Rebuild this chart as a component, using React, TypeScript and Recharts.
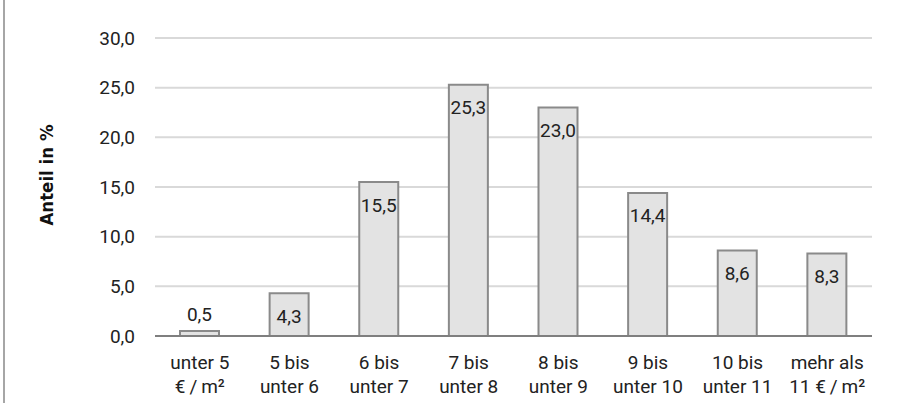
import React from "react";
import { BarChart, Bar, XAxis, YAxis, CartesianGrid, LabelList } from "recharts";

const categories = [
  ["unter 5", "€\u2009/\u2009m²"],
  ["5 bis", "unter 6"],
  ["6 bis", "unter 7"],
  ["7 bis", "unter 8"],
  ["8 bis", "unter 9"],
  ["9 bis", "unter 10"],
  ["10 bis", "unter 11"],
  ["mehr als", "11 €\u2009/\u2009m²"],
];
const shares = [0.5, 4.3, 15.5, 25.3, 23.0, 14.4, 8.6, 8.3];
const yTicks = [0, 5, 10, 15, 20, 25, 30];

const FONT = "Roboto, sans-serif";
const SIZE = 19;

const data = categories.map((c, i) => ({ name: c.join("|"), value: shares[i] }));

const fmt = (v: number) => v.toFixed(1).replace(".", ",");

function CategoryTick({ x, y, payload }: any) {
  const [a, b] = String(payload.value).split("|");
  return (
    <text x={x} y={y} textAnchor="middle" fontFamily={FONT} fontSize={SIZE} fill="#222">
      <tspan x={x} dy={25}>{a}</tspan>
      <tspan x={x} dy={24}>{b}</tspan>
    </text>
  );
}

function ValueLabel({ x, y, width, value }: any) {
  const cx = x + width / 2;
  // tiny bars get their label above the bar, the rest sit just inside the top
  const ty = value < 1 ? y - 17 : y + 23;
  return (
    <text x={cx} y={ty} textAnchor="middle" dominantBaseline="central" fontFamily={FONT} fontSize={SIZE} fill="#222">
      {fmt(value)}
    </text>
  );
}

export default function App() {
  return (
    <div style={{ position: "fixed", left: 0, top: 0, width: 907, height: 403, background: "#fff" }}>
      <div style={{ position: "absolute", left: 3, top: 0, width: 2, height: 403, background: "#a6a6a6" }} />
      <BarChart width={907} height={403} data={data} margin={{ top: 38, right: 35, bottom: 0, left: 0 }} barSize={39}>
        <CartesianGrid vertical={false} stroke="#d9d9d9" strokeWidth={2} />
        <XAxis
          dataKey="name"
          height={67}
          tick={<CategoryTick />}
          tickLine={false}
          axisLine={{ stroke: "#7f7f7f", strokeWidth: 2 }}
          interval={0}
        />
        <YAxis
          width={155}
          domain={[0, 30]}
          ticks={yTicks}
          tickFormatter={fmt}
          axisLine={false}
          tickLine={false}
          tickMargin={14}
          tick={{ fontFamily: FONT, fontSize: SIZE, fill: "#222" }}
          label={{
            content: ({ viewBox }: any) => {
              const cy = viewBox.y + viewBox.height / 2 - 12;
              return (
                <text
                  x={46}
                  y={cy}
                  transform={`rotate(-90 46 ${cy})`}
                  textAnchor="middle"
                  dominantBaseline="central"
                  fontFamily="'DejaVu Sans Condensed', sans-serif"
                  fontWeight="bold"
                  fontSize={18.5}
                  fill="#111"
                >
                  Anteil in %
                </text>
              );
            },
          }}
        />
        <Bar dataKey="value" fill="#e3e3e3" stroke="#8a8a8a" strokeWidth={2} isAnimationActive={false}>
          <LabelList dataKey="value" content={<ValueLabel />} />
        </Bar>
      </BarChart>
    </div>
  );
}
